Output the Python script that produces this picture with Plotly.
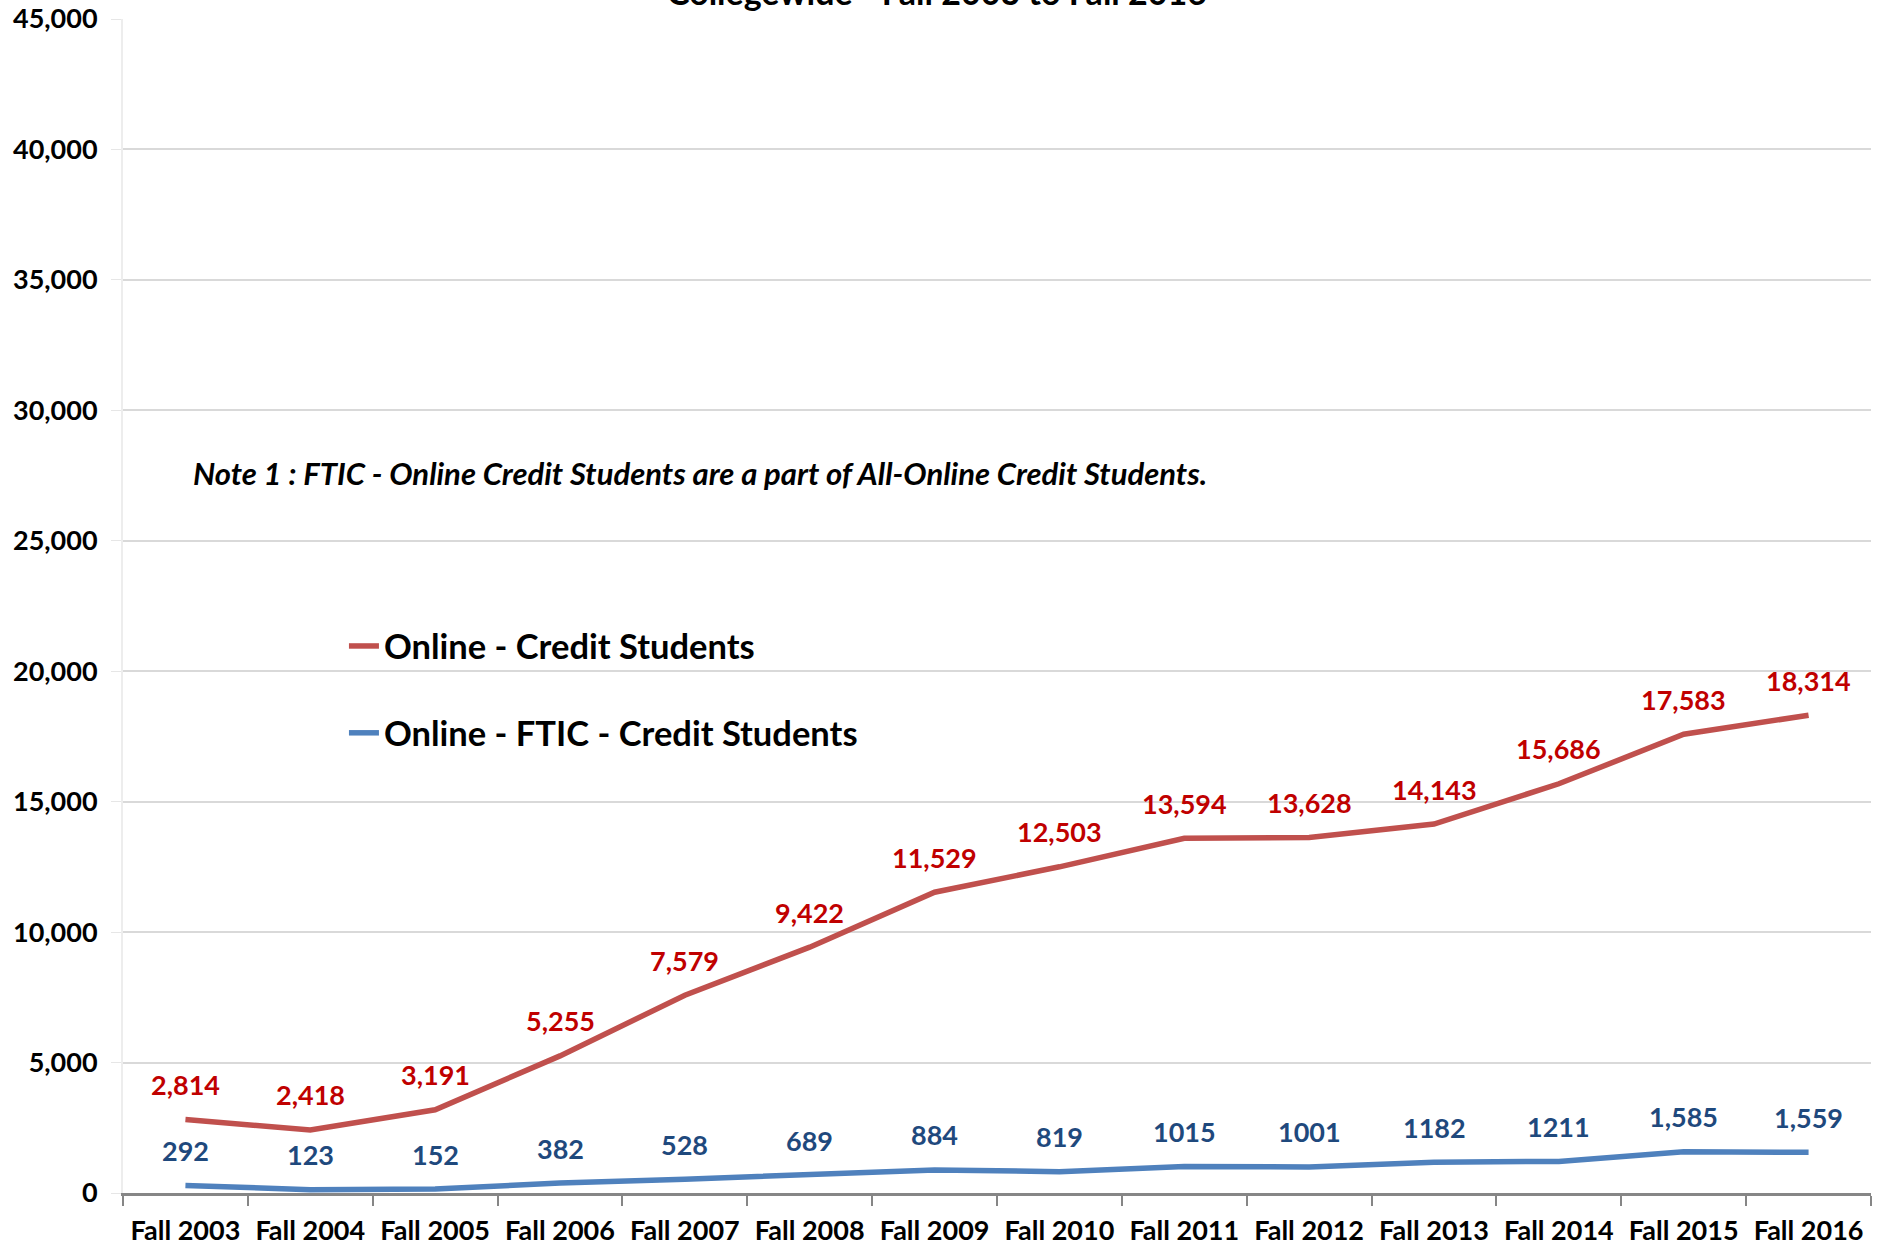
import plotly.graph_objects as go

terms = ['Fall 2003', 'Fall 2004', 'Fall 2005', 'Fall 2006', 'Fall 2007', 'Fall 2008', 'Fall 2009',
         'Fall 2010', 'Fall 2011', 'Fall 2012', 'Fall 2013', 'Fall 2014', 'Fall 2015', 'Fall 2016']
online_credit = [2814, 2418, 3191, 5255, 7579, 9422, 11529, 12503, 13594, 13628, 14143, 15686, 17583, 18314]
online_ftic = [292, 123, 152, 382, 528, 689, 884, 819, 1015, 1001, 1182, 1211, 1585, 1559]
# labels as printed on the original chart (mixed formatting)
ftic_labels = ['292', '123', '152', '382', '528', '689', '884', '819', '1015', '1001', '1182', '1211',
               '1,585', '1,559']

FONT = 'Lato'
RED_LINE = '#C0504D'
BLUE_LINE = '#4F81BD'
RED_TEXT = '#C00000'
BLUE_TEXT = '#1F497D'

fig = go.Figure()
fig.add_trace(go.Scatter(x=terms, y=online_credit, mode='lines', name='Online - Credit Students',
                         legendgroup='1', line=dict(color=RED_LINE, width=5.5)))
fig.add_trace(go.Scatter(x=terms, y=online_ftic, mode='lines', name='Online - FTIC - Credit Students',
                         legendgroup='2', line=dict(color=BLUE_LINE, width=5.5)))

# data labels
for t, v in zip(terms, online_credit):
    fig.add_annotation(x=t, y=v, text=f'{v:,}', showarrow=False, yshift=35,
                       font=dict(family=FONT, size=27, color=RED_TEXT, weight='bold'))
for t, v, lab in zip(terms, online_ftic, ftic_labels):
    fig.add_annotation(x=t, y=v, text=lab, showarrow=False, yshift=35,
                       font=dict(family=FONT, size=27, color=BLUE_TEXT, weight='bold'))

# note and (clipped) title
fig.add_annotation(xref='paper', yref='paper', x=0.039, y=0.613, xanchor='left', yanchor='middle',
                   text='<i>Note 1 : FTIC - Online Credit Students are a part of All-Online Credit Students.</i>',
                   showarrow=False, font=dict(family=FONT, size=31, color='black', weight='bold'))
fig.add_annotation(xref='paper', yref='paper', x=0.4655, y=1.004, xanchor='center', yanchor='bottom',
                   text='Collegewide - Fall 2003 to Fall 2016', showarrow=False,
                   font=dict(family=FONT, size=34, color='black', weight='bold'))

fig.update_layout(
    width=1883, height=1246,
    margin=dict(l=123, r=12, t=19, b=53),
    plot_bgcolor='white', paper_bgcolor='white',
    font=dict(family=FONT, color='black'),
    showlegend=True,
    legend=dict(x=0.1264, y=0.4906, xanchor='left', yanchor='top', bgcolor='rgba(0,0,0,0)',
                traceorder='grouped', tracegroupgap=39,
                font=dict(family=FONT, size=34.5, color='black', weight='bold')),
    xaxis=dict(type='category', range=[-0.5, 13.5], tickson='boundaries', ticks='outside', ticklen=10,
               tickcolor='#868686', tickwidth=2, showline=True, linecolor='#868686', linewidth=3,
               showgrid=False, automargin=False, ticklabelstandoff=12,
               tickfont=dict(family=FONT, size=27, weight='bold')),
    yaxis=dict(range=[0, 45000], dtick=5000, tickformat=',d', ticks='outside', ticklen=10,
               tickcolor='#E6E6E6', showline=True, linecolor='#EDEDED', linewidth=2,
               gridcolor='#D9D9D9', gridwidth=2, zeroline=False, ticklabelstandoff=8, automargin=False,
               ticklabeloverflow='allow', tickfont=dict(family=FONT, size=27, weight='bold')),
)

# drop the default 8px page margin so the figure fills the window
fig.write_html('out.html', config={'displayModeBar': False},
               post_script="document.body.style.margin = '0';")
